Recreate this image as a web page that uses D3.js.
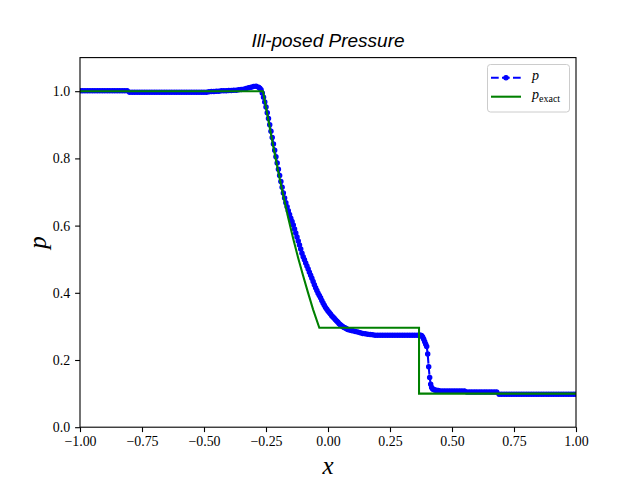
<!DOCTYPE html>
<html>
<head>
<meta charset="utf-8">
<script src="https://cdn.jsdelivr.net/npm/d3@7"></script>
<style>
  body { margin: 0; background: #fff; }
  svg { display: block; }
</style>
</head>
<body>
<div id="chart"></div>
<script>
// numerical solution (blue dots)
const xNum = [
  -1.00,-0.99,-0.98,-0.97,-0.96,-0.95,-0.94,-0.93,-0.92,-0.91,-0.90,-0.89,-0.88,-0.87,-0.86,-0.85,-0.84,-0.83,-0.82,-0.81,
  -0.80,-0.79,-0.78,-0.77,-0.76,-0.75,-0.74,-0.73,-0.72,-0.71,-0.70,-0.69,-0.68,-0.67,-0.66,-0.65,-0.64,-0.63,-0.62,-0.61,-0.60,-0.59,-0.58,-0.57,-0.56,-0.55,-0.54,-0.53,-0.52,-0.51,-0.50,-0.49,
  -0.48,-0.47,-0.46,-0.45,-0.44,-0.43,-0.42,-0.41,-0.40,-0.39,-0.38,-0.37,-0.36,-0.35,-0.34,-0.33,-0.32,-0.31,-0.30,-0.29,
  -0.280,-0.275,-0.270,-0.265,-0.260,-0.255,-0.250,-0.245,-0.240,-0.235,-0.230,-0.225,-0.220,-0.215,-0.210,-0.205,-0.200,-0.195,-0.190,
  -0.185,-0.180,-0.175,-0.170,-0.165,-0.160,-0.155,-0.150,-0.145,-0.140,-0.135,-0.130,-0.125,-0.120,-0.115,-0.110,-0.105,-0.100,
  -0.095,-0.090,-0.085,-0.080,-0.075,-0.070,-0.065,-0.060,-0.055,-0.050,-0.045,-0.040,-0.035,-0.030,-0.025,-0.020,-0.015,-0.010,-0.005,0.000,
  0.005,0.010,0.015,0.020,0.025,0.030,0.035,0.040,0.045,0.050,0.055,0.060,0.065,0.070,0.075,0.080,0.085,0.090,0.095,0.100,
  0.11,0.12,0.13,0.14,0.15,0.16,0.17,0.18,
  0.19,0.20,0.21,0.22,0.23,0.24,0.25,0.26,0.27,0.28,0.29,0.30,0.31,0.32,0.33,0.34,0.35,0.36,0.37,
  0.374,0.378,0.382,0.386,0.390,0.394,0.398,0.402,0.406,0.410,0.414,0.418,0.422,0.426,0.430,0.435,0.440,0.445,
  0.45,0.46,0.47,0.48,0.49,0.50,0.51,0.52,0.53,0.54,0.55,
  0.56,0.57,0.58,0.59,0.60,0.61,0.62,0.63,0.64,0.65,0.66,0.67,0.68,
  0.69,0.70,0.71,0.72,0.73,0.74,0.75,0.76,0.77,0.78,0.79,0.80,0.81,0.82,0.83,0.84,0.85,0.86,0.87,0.88,0.89,0.90,0.91,0.92,0.93,0.94,0.95,0.96,0.97,0.98,0.99,1.00
];
const pNum = [
  1.001,1.001,1.001,1.001,1.001,1.001,1.001,1.001,1.001,1.001,1.001,1.001,1.001,1.001,1.001,1.001,1.001,1.001,1.001,1.001,
  0.997,0.997,0.997,0.997,0.997,0.997,0.997,0.997,0.997,0.997,0.997,0.997,0.997,0.997,0.997,0.997,0.997,0.997,0.997,0.997,0.997,0.997,0.997,0.997,0.997,0.997,0.997,0.997,0.997,0.997,0.997,0.997,
  0.998,0.999,0.999,1.000,1.000,1.001,1.001,1.001,1.002,1.002,1.003,1.003,1.004,1.005,1.006,1.008,1.010,1.012,1.014,1.015,
  1.012,1.009,1.004,0.995,0.982,0.968,0.953,0.936,0.919,0.900,0.881,0.862,0.843,0.824,0.805,0.786,0.768,0.749,0.731,
  0.714,0.697,0.682,0.668,0.656,0.644,0.633,0.622,0.612,0.602,0.590,0.578,0.566,0.554,0.542,0.530,0.518,0.507,
  0.498,0.489,0.480,0.471,0.461,0.452,0.443,0.434,0.424,0.415,0.407,0.399,0.392,0.385,0.377,0.370,0.363,0.356,0.351,0.346,
  0.341,0.337,0.332,0.328,0.324,0.320,0.316,0.312,0.308,0.305,0.302,0.299,0.297,0.295,0.293,0.291,0.290,0.289,0.288,0.287,
  0.285,0.283,0.281,0.279,0.278,0.277,0.276,0.275,
  0.274,0.274,0.274,0.274,0.274,0.274,0.274,0.274,0.274,0.274,0.274,0.274,0.274,0.274,0.274,0.274,0.274,0.274,0.274,
  0.274,0.272,0.268,0.262,0.254,0.247,0.240,0.218,0.180,0.148,0.128,0.118,0.114,0.112,0.111,0.110,0.109,0.109,
  0.108,0.108,0.108,0.108,0.108,0.108,0.108,0.108,0.108,0.108,0.108,
  0.105,0.105,0.105,0.105,0.105,0.105,0.105,0.105,0.105,0.105,0.105,0.105,0.105,
  0.098,0.098,0.098,0.098,0.098,0.098,0.098,0.098,0.098,0.098,0.098,0.098,0.098,0.098,0.098,0.098,0.098,0.098,0.098,0.098,0.098,0.098,0.098,0.098,0.098,0.098,0.098,0.098,0.098,0.098,0.098,0.098
];

// exact solution (green)
const xExact = [-1.0, -0.262, -0.24, -0.22, -0.20, -0.18, -0.16, -0.14, -0.12, -0.10, -0.08, -0.06, -0.035, 0.367, 0.367, 1.0];
const pExact = [1.0, 1.0, 0.912, 0.833, 0.758, 0.688, 0.622, 0.560, 0.503, 0.450, 0.399, 0.350, 0.296, 0.296, 0.100, 0.100];

const xTicks = [-1.0, -0.75, -0.5, -0.25, 0.0, 0.25, 0.5, 0.75, 1.0];
const yTicks = [0.0, 0.2, 0.4, 0.6, 0.8, 1.0];

const W = 640, H = 480;
const axL = 80, axR = 576, axT = 57.6, axB = 427.2;
const serif = "'Liberation Serif', 'DejaVu Serif', serif";

const x = d3.scaleLinear().domain([-1, 1]).range([axL, axR]);
const y = d3.scaleLinear().domain([0, 1.1]).range([axB, axT]);

const svg = d3.select("#chart").append("svg")
    .attr("width", W)
    .attr("height", H);

svg.append("rect").attr("width", W).attr("height", H).attr("fill", "#fff");

// clip to axes area
svg.append("clipPath").attr("id", "clip")
  .append("rect").attr("x", axL).attr("y", axT).attr("width", axR - axL).attr("height", axB - axT);

const plot = svg.append("g").attr("clip-path", "url(#clip)");

const numData = xNum.map((d, i) => ({x: d, p: pNum[i]}));
const exactData = xExact.map((d, i) => ({x: d, p: pExact[i]}));

const line = d3.line().x(d => x(d.x)).y(d => y(d.p));

plot.append("path").datum(numData)
    .attr("d", line)
    .attr("fill", "none")
    .attr("stroke", "#0000ff")
    .attr("stroke-width", 2.08)
    .attr("stroke-dasharray", "7.7,3.3");

plot.selectAll("circle.num").data(numData).join("circle")
    .attr("class", "num")
    .attr("cx", d => x(d.x))
    .attr("cy", d => y(d.p))
    .attr("r", 2.1)
    .attr("fill", "#0000ff")
    .attr("stroke", "#0000ff")
    .attr("stroke-width", 1.3);

plot.append("path").datum(exactData)
    .attr("d", line)
    .attr("fill", "none")
    .attr("stroke", "#008000")
    .attr("stroke-width", 2.08);

// axes
const xAxis = d3.axisBottom(x).tickValues(xTicks).tickFormat(d3.format(".2f")).tickSize(4.9).tickPadding(4.5);
const yAxis = d3.axisLeft(y).tickValues(yTicks).tickFormat(d3.format(".1f")).tickSize(4.9).tickPadding(4.9);

const gx = svg.append("g").attr("transform", `translate(0,${axB})`).call(xAxis);
const gy = svg.append("g").attr("transform", `translate(${axL},0)`).call(yAxis);
[gx, gy].forEach(g => {
  g.select(".domain").remove();
  g.selectAll(".tick line").attr("stroke", "#000").attr("stroke-width", 1.1);
  g.selectAll(".tick text").attr("fill", "#000").attr("font-family", serif).attr("font-size", 13.9);
});

// frame
svg.append("rect")
    .attr("x", axL).attr("y", axT)
    .attr("width", axR - axL).attr("height", axB - axT)
    .attr("fill", "none").attr("stroke", "#000").attr("stroke-width", 1.1);

// title and labels
svg.append("text")
    .attr("x", (axL + axR) / 2).attr("y", 47)
    .attr("text-anchor", "middle")
    .attr("font-family", "'Liberation Sans', 'DejaVu Sans', sans-serif")
    .attr("font-style", "italic")
    .attr("font-size", 19)
    .text("Ill-posed Pressure");

svg.append("text")
    .attr("x", (axL + axR) / 2).attr("y", 474)
    .attr("text-anchor", "middle")
    .attr("font-family", serif).attr("font-style", "italic")
    .attr("font-size", 25)
    .text("x");

svg.append("text")
    .attr("transform", `translate(46,${(axT + axB) / 2}) rotate(-90)`)
    .attr("text-anchor", "middle")
    .attr("font-family", serif).attr("font-style", "italic")
    .attr("font-size", 25)
    .text("p");

// legend
const lg = svg.append("g");
lg.append("rect")
    .attr("x", 487.5).attr("y", 64.5).attr("width", 82).attr("height", 47.5)
    .attr("rx", 3)
    .attr("fill", "#fff").attr("fill-opacity", 0.8)
    .attr("stroke", "#cccccc").attr("stroke-width", 1);

lg.append("line")
    .attr("x1", 491).attr("x2", 521).attr("y1", 77.7).attr("y2", 77.7)
    .attr("stroke", "#0000ff").attr("stroke-width", 2.08)
    .attr("stroke-dasharray", "7.7,3.3");
lg.append("circle")
    .attr("cx", 506).attr("cy", 77.7).attr("r", 2.1)
    .attr("fill", "#0000ff").attr("stroke", "#0000ff").attr("stroke-width", 1.3);
lg.append("line")
    .attr("x1", 491).attr("x2", 521).attr("y1", 96.7).attr("y2", 96.7)
    .attr("stroke", "#008000").attr("stroke-width", 2.08);

lg.append("text")
    .attr("x", 532).attr("y", 80)
    .attr("font-family", serif).attr("font-style", "italic").attr("font-size", 14)
    .text("p");
const t2 = lg.append("text")
    .attr("x", 532).attr("y", 99)
    .attr("font-family", serif).attr("font-size", 14);
t2.append("tspan").attr("font-style", "italic").text("p");
t2.append("tspan").attr("font-size", 10).attr("dy", 2.5).text("exact");
</script>
</body>
</html>
